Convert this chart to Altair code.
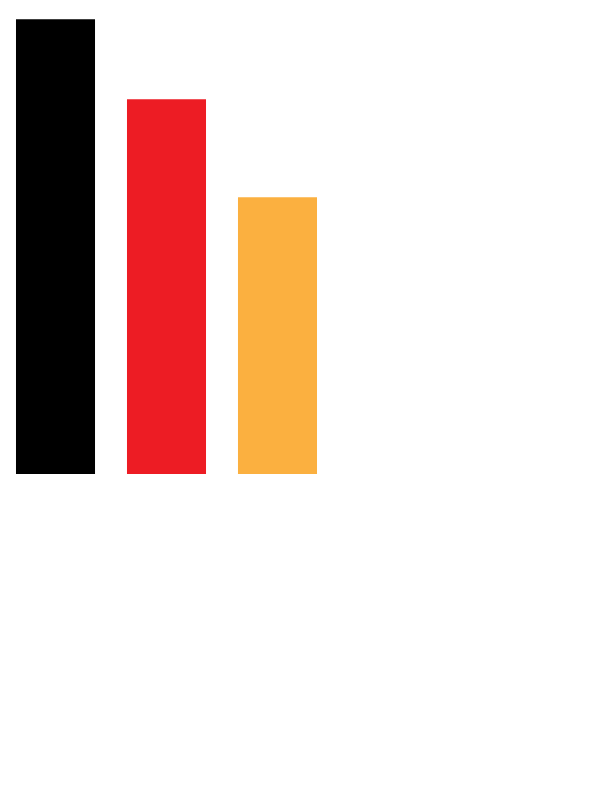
import altair as alt
import pandas as pd

categories = ["A", "B", "C"]
values = [97.6, 80.4, 59.4]
colors = ["#000000", "#ED1C24", "#FBB040"]

df = pd.DataFrame({"cat": categories, "value": values, "color": colors})

chart = alt.Chart(df).mark_bar(strokeWidth=0).encode(
    x=alt.X("cat:N", axis=None, sort=categories,
            scale=alt.Scale(paddingInner=0.288, paddingOuter=0.072)),
    y=alt.Y("value:Q", axis=None, scale=alt.Scale(domain=[0, 100], nice=False, zero=True)),
    color=alt.Color("color:N", scale=None, legend=None),
).properties(
    width=317, height=466, padding=0, background="white"
).configure_view(stroke="transparent", strokeWidth=0)

chart.save("out.html", embed_options={"renderer": "svg", "actions": False})
